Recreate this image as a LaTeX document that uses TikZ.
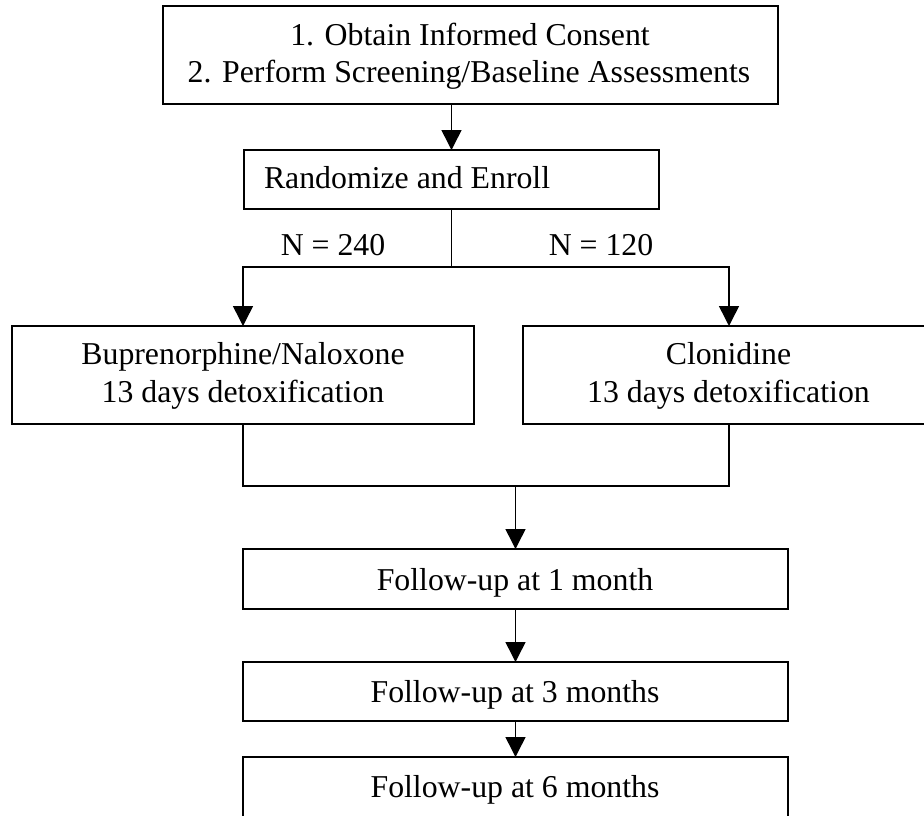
\documentclass[tikz,border=0pt]{standalone}
\usepackage{fontspec}
\setmainfont{Liberation Serif}
\usetikzlibrary{arrows.meta}
\begin{document}
\begin{tikzpicture}[x=1pt,y=-1pt,
  box/.style={draw=black,line width=1.8pt,inner sep=0pt,outer sep=0pt,rectangle},
  txt/.style={inner sep=0pt,outer sep=0pt,anchor=base,font=\fontsize{31.8}{37.5}\selectfont},
  ln/.style={line width=1.5pt,draw=black},
  arr/.style={line width=1.5pt,draw=black,-{Triangle[width=20pt,length=20pt]}}]
\useasboundingbox (0,0) rectangle (924,815);
\clip (0,0) rectangle (924,815);
\fill[white] (0,0) rectangle (924,815);
% boxes
\node[box,minimum width=615pt,minimum height=98pt] (b1) at (470.5,55) {};
\node[box,minimum width=415pt,minimum height=59pt] (b2) at (451.5,179.5) {};
\node[box,minimum width=462pt,minimum height=98pt] (bL) at (243,375) {};
\node[box,minimum width=412pt,minimum height=98pt] (bR) at (729,375) {};
\node[box,minimum width=545pt,minimum height=60pt] (b4) at (515.5,579) {};
\node[box,minimum width=545pt,minimum height=59pt] (b5) at (515.5,691.5) {};
\node[box,minimum width=545pt,minimum height=73pt] (b6) at (515.5,793.5) {};
% texts
\node[txt] (t1a) at (470,45) {1. Obtain Informed Consent};
\node[txt] (t1b) at (469,82) {2. Perform Screening/Baseline Assessments};
\node[txt,anchor=base west] (t2) at (264,188) {Randomize and Enroll};
\node[txt] (nL) at (333,255) {N = 240};
\node[txt] (nR) at (601,255) {N = 120};
\node[txt] (tLa) at (243,364) {Buprenorphine/Naloxone};
\node[txt] (tLb) at (243,402) {13 days detoxification};
\node[txt] (tRa) at (728.5,364) {Clonidine};
\node[txt] (tRb) at (728.5,402) {13 days detoxification};
\node[txt] (t4) at (515,590) {Follow-up at 1 month};
\node[txt] (t5) at (515,702) {Follow-up at 3 months};
\node[txt] (t6) at (515,797) {Follow-up at 6 months};
% connectors
\coordinate (sp) at (451.5,267);
\coordinate (mg) at (515.5,486);
\draw[arr] (b1.south -| sp) -- (b2.north -| sp);
\draw[ln] (b2.south -| sp) -- (sp);
\draw[arr] (sp) -| (bL.north);
\draw[arr] (sp) -| (bR.north);
\draw[ln] (bL.south) |- (mg) -| (bR.south);
\draw[arr] (mg) -- (b4.north);
\draw[arr] (b4.south) -- (b5.north);
\draw[arr] (b5.south) -- (b6.north);
\end{tikzpicture}
\end{document}
